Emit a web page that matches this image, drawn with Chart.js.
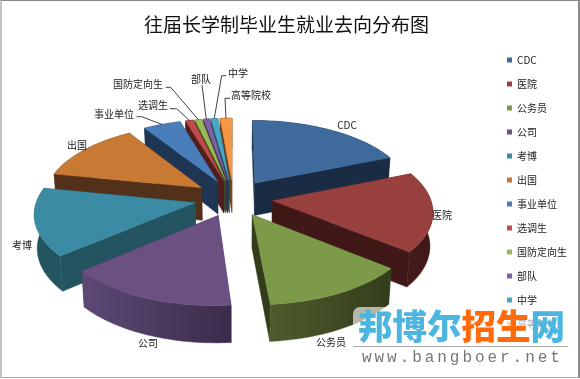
<!DOCTYPE html>
<html><head><meta charset="utf-8">
<script src="https://cdn.jsdelivr.net/npm/chart.js@4"></script>
<style>
html,body{margin:0;padding:0;background:#fff}
#box{position:relative;width:580px;height:379px;overflow:hidden}
#frame{position:absolute;left:0;top:0;width:576px;height:376px;border-left:2px solid #c4c4c4;border-top:1px solid #8a8a8a;border-right:2px solid #8a8a8a;border-bottom:1px solid #a8a8a8;pointer-events:none}
#veil{position:absolute;left:353px;top:307px;width:224px;height:69px;background:rgba(255,255,255,.62);border-top-left-radius:7px}
#wm{position:absolute;left:358px;top:299px;font:900 34.5px/50px "Noto Sans CJK SC";white-space:nowrap;color:#4db6e0}
#wm b{color:#ff6a0a;font-weight:900}
#rule{position:absolute;left:353px;top:346px;width:215px;height:1px;background:#aaa}
#url{position:absolute;left:362px;top:349px;font:16px/18px "Liberation Mono";letter-spacing:2.95px;color:#777;white-space:nowrap}
</style></head>
<body><div id="box"><canvas id="c" width="580" height="379"></canvas>
<div id="veil"></div><div id="wm">邦博尔<b>招生</b>网</div><div id="rule"></div><div id="url">www.bangboer.net</div><div id="frame"></div></div>
<script>
const titleText = "往届长学制毕业生就业去向分布图";
const categories = ["CDC","医院","公务员","公司","考博","出国","事业单位","选调生","国防定向生","部队","中学","高等院校"];
const shares = [18.8,17.0,12.8,15.0,14.4,12.8,4.4,0.9,0.8,0.7,0.8,1.4];
const topColors = ["#3e6a9c","#98403d","#7d994a","#6a5182","#3a8ba3","#c87a34","#4a7ebb","#be4b48","#98b954","#7e629f","#48a7c6","#f79646"];
const wallLight = ["#1c2f48","#451b1a","#4e5b2c","#5c4a75","#235460","#52301a","#1e3553","#4f1e1d","#3c4a20","#35294a","#1f4a59","#6a3f1a"];
const wallDark  = ["#1a2c44","#3f1817","#333d1c","#3a2c4b","#235460","#4e2e12","#1c3250","#4f1e1d","#3c4a20","#35294a","#1f4a59","#6a3f1a"];
/* label anchor (centre of text) and, for the small slices, the elbow of the leader line */
const labelPos = [[347,125],[442,215],[331,342],[148,343],[22,245],[77,145],[114,114],[153,105],[138,84],[201,79],[238,73],[251,95]];
const leaderFrom = [null,null,null,null,null,null,[[136.5,116.7],[141.7,116.7]],[[170,108.7],[176.7,108.7]],[[165.7,87.3],[170.7,87.3]],[[202,85]],[[226,75.7],[221.7,75.7]],[[230,98.3],[225,98.3]]];

/* view of the pie: perspective tilt of the plane, all relative to the arc radius */
const view = {dx:-14.5, dy:-12, bx:0.98, ay:0.46, p:0.126, depth:33, depthP:0.09, shrink:0.985};

const pie3d = {
  id:'pie3d',
  afterLayout(chart){
    chart.titleBlock.left -= 7;
    chart.legend.top += 41; chart.legend.left -= 3; chart.legend.right -= 3;
  },
  beforeDatasetsDraw(chart){
    const ctx = chart.ctx, arcs = chart.getDatasetMeta(0).data;
    const first = arcs[0], R = first.outerRadius;
    const cx = first.x + view.dx, cy = first.y + view.dy;
    const b = R*view.bx, a = R*view.ay;
    const project = (X,Y)=>{const F=1/(1+view.p*Y);return [cx+b*X*F, cy-a*Y*F];};
    const lower = (X,Y)=>{const q=project(X,Y);return [cx+(q[0]-cx)*view.shrink, q[1]+view.depth/(1+view.depthP*Y)];};
    const poly = (pts,fill)=>{ctx.beginPath();pts.forEach((q,i)=>i?ctx.lineTo(q[0],q[1]):ctx.moveTo(q[0],q[1]));ctx.closePath();ctx.fillStyle=fill;ctx.strokeStyle=fill;ctx.lineWidth=.4;ctx.fill();ctx.stroke();};
    const slices = arcs.map((el,i)=>{
      const t0 = el.startAngle+Math.PI/2, t1 = el.endAngle+Math.PI/2, mid=(t0+t1)/2;
      const e = el.options.offset/el.outerRadius;
      const ox = e*Math.sin(mid), oy = e*Math.cos(mid);
      const n = Math.max(2,Math.ceil((t1-t0)*40)), rim=[];
      for(let k=0;k<=n;k++){const t=t0+(t1-t0)*k/n;rim.push([ox+Math.sin(t),oy+Math.cos(t)]);}
      return {i,ox,oy,mid,rim,back:oy+Math.cos(mid)*.5};
    });
    slices.slice().sort((s,u)=>u.back-s.back).forEach(s=>{
      const i=s.i, rim=s.rim, A=[s.ox,s.oy], P=rim[0], Q=rim[rim.length-1];
      const walls=[
        {d:(A[1]+P[1])/2, pts:[project(...A),project(...P),lower(...P),lower(...A)], fill:wallLight[i]},
        {d:(A[1]+Q[1])/2, pts:[project(...A),project(...Q),lower(...Q),lower(...A)], fill:wallDark[i]}
      ];
      const top=rim.map(q=>project(...q)), bot=rim.map(q=>lower(...q)).reverse();
      const xs=top.map(q=>q[0]);
      const g=ctx.createLinearGradient(Math.min(...xs),0,Math.max(...xs),0);
      g.addColorStop(0,wallLight[i]);g.addColorStop(1,wallDark[i]);
      walls.push({d:s.oy+Math.cos(s.mid), pts:top.concat(bot), fill:g});
      walls.sort((w,v)=>v.d-w.d).forEach(w=>poly(w.pts,w.fill));
      poly([project(...A)].concat(top), topColors[i]);
    });
    /* category labels and leader lines */
    ctx.font='10px "Noto Sans CJK SC"';ctx.textAlign='center';ctx.textBaseline='middle';
    slices.forEach(s=>{
      const i=s.i, from=leaderFrom[i];
      if(from){
        const end=project(s.ox+Math.sin(s.mid),s.oy+Math.cos(s.mid));
        ctx.beginPath();from.forEach((q,k)=>k?ctx.lineTo(q[0],q[1]):ctx.moveTo(q[0],q[1]));ctx.lineTo(end[0],end[1]);
        ctx.strokeStyle='#111';ctx.lineWidth=.8;ctx.stroke();
      }
      ctx.fillStyle='#222';
      ctx.fillText(categories[i],labelPos[i][0],labelPos[i][1]);
    });
    return false;
  }
};

new Chart(document.getElementById('c'),{
  type:'pie',
  data:{labels:categories,datasets:[{data:shares,backgroundColor:topColors,borderWidth:0,offset:40}]},
  options:{
    responsive:false,animation:false,radius:161,
    events:[],
    layout:{padding:0},
    plugins:{
      tooltip:{enabled:false},
      title:{display:true,text:titleText,color:'#111',font:{family:'"Noto Sans CJK SC"',size:19,weight:'normal'},padding:{top:13.6,bottom:4.6}},
      legend:{position:'right',align:'start',labels:{boxWidth:5,boxHeight:5,padding:14,color:'#222',font:{family:'"Noto Sans CJK SC"',size:10}}}
    }
  },
  plugins:[pie3d]
});
</script></body></html>
